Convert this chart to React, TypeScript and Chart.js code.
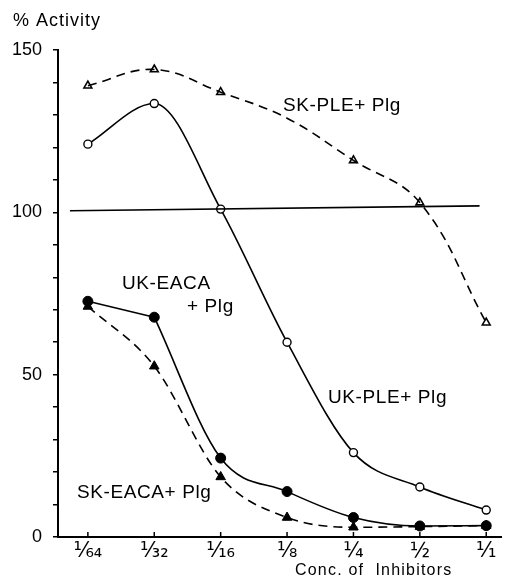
import React, { useEffect, useRef } from "react";
import { Chart, registerables } from "chart.js";

Chart.register(...registerables);

// ---- data ----
const categories = ["¹⁄₆₄", "¹⁄₃₂", "¹⁄₁₆", "⅛", "¼", "½", "¹⁄₁"];
const skPleMeasured = [139, 144, 137, 152, 116, 103, 66];
const skPleFit = [139, 144, 137, 129, 116, 103, 66];
const ukPle = [121, 133.5, 101, 60, 26, 15.4, 8.3];
const ukEaca = [72.6, 67.7, 24.3, 14, 6, 3.4, 3.5];
const skEaca = [71, 52.6, 18.5, 6, 3, 3.2, 3.5];
const refLineX = [-0.27, 5.9];
const refLineY = [100.5, 102];
const yLabelTicks = [0, 50, 100, 150];

const toPts = (arr: number[], offset = 0) => arr.map((v, i) => ({ x: i + offset, y: v }));

const annotations = [
  { text: "% Activity", x: 13, y: 21, size: 18, spacing: 1 },
  { text: "SK-PLE+ Plg", x: 283, y: 106, size: 19, spacing: 0.6 },
  { text: "UK-EACA", x: 122, y: 284, size: 19, spacing: 0.6 },
  { text: "+ Plg", x: 187, y: 307, size: 19, spacing: 0.6 },
  { text: "UK-PLE+ Plg", x: 328, y: 398, size: 19, spacing: 0.6 },
  { text: "SK-EACA+ Plg", x: 77, y: 493, size: 19, spacing: 0.6 },
  { text: "Conc. of  Inhibitors", x: 295, y: 571, size: 16, spacing: 1.2 },
];

const textPlugin = {
  id: "textPlugin",
  afterDraw(chart: any) {
    const ctx = chart.ctx as CanvasRenderingContext2D;
    const xs = chart.scales.x;
    const area = chart.chartArea;
    ctx.save();
    ctx.strokeStyle = "#000";
    ctx.lineWidth = 1.5;
    categories.forEach((_, i) => {
      const px = xs.getPixelForValue(i);
      ctx.beginPath();
      ctx.moveTo(px, area.bottom);
      ctx.lineTo(px, area.bottom - 5);
      ctx.stroke();
    });
    ctx.fillStyle = "#000";
    ctx.textBaseline = "middle";
    ctx.textAlign = "left";
    for (const a of annotations) {
      ctx.font = `${a.size}px "Liberation Sans"`;
      (ctx as any).letterSpacing = `${a.spacing}px`;
      ctx.fillText(a.text, a.x, a.y);
    }
    ctx.restore();
  },
};

export default function App() {
  const ref = useRef<HTMLCanvasElement | null>(null);
  useEffect(() => {
    if (!ref.current) return;
    const common = {
      borderColor: "#000",
      borderWidth: 1.6,
      fill: false,
      clip: false as any,
    };
    const dash = [9, 6];
    const chart = new Chart(ref.current, {
      type: "line",
      data: {
        datasets: [
          {
            ...common,
            label: "100%",
            data: refLineX.map((x, i) => ({ x, y: refLineY[i] })),
            pointRadius: 0,
            tension: 0,
          },
          {
            ...common,
            label: "SK-PLE fit",
            data: toPts(skPleFit),
            borderDash: dash,
            pointRadius: 0,
            tension: 0.4,
          },
          {
            ...common,
            label: "SK-PLE+Plg",
            data: toPts(skPleMeasured),
            showLine: false,
            pointStyle: "triangle",
            pointRadius: 4.5,
            pointBorderWidth: 1.6,
            pointBackgroundColor: "#fff",
            pointBorderColor: "#000",
          },
          {
            ...common,
            label: "UK-PLE+Plg",
            data: toPts(ukPle),
            cubicInterpolationMode: "monotone",
            pointStyle: "circle",
            pointRadius: 4,
            pointBorderWidth: 1.4,
            pointBackgroundColor: "#fff",
            pointBorderColor: "#000",
          },
          {
            ...common,
            label: "UK-EACA start",
            data: toPts(ukEaca.slice(0, 2)),
            pointRadius: 0,
            tension: 0,
          },
          {
            ...common,
            label: "UK-EACA decay",
            data: toPts(ukEaca.slice(1), 1),
            pointRadius: 0,
            cubicInterpolationMode: "monotone",
          },
          {
            ...common,
            label: "UK-EACA+Plg",
            data: toPts(ukEaca),
            showLine: false,
            pointStyle: "circle",
            pointRadius: 5,
            pointBorderWidth: 1,
            pointBackgroundColor: "#000",
            pointBorderColor: "#000",
          },
          {
            ...common,
            label: "SK-EACA+Plg",
            data: toPts(skEaca),
            cubicInterpolationMode: "monotone",
            borderDash: dash,
            pointStyle: "triangle",
            pointRadius: 5.5,
            pointBorderWidth: 1,
            pointBackgroundColor: "#000",
            pointBorderColor: "#000",
          },
        ],
      },
      options: {
        animation: false,
        responsive: true,
        maintainAspectRatio: false,
        layout: { padding: { top: 50, right: 3, left: 0, bottom: 0 } },
        plugins: {
          legend: { display: false },
          tooltip: { enabled: false },
        },
        scales: {
          x: {
            type: "linear",
            min: -0.45,
            max: 6.23,
            afterBuildTicks: (s: any) => {
              s.ticks = categories.map((_, i) => ({ value: i }));
            },
            afterFit: (s: any) => {
              s.height = 41;
            },
            ticks: {
              callback: (v: any) => categories[v] ?? "",
              font: { family: "DejaVu Sans", size: 21 },
              color: "#000",
              padding: 2,
              maxRotation: 0,
              autoSkip: false,
            },
            grid: { display: true, drawOnChartArea: false, drawTicks: false, color: "#000" },
            border: { display: true, color: "#000", width: 2 },
          },
          y: {
            type: "linear",
            min: 0,
            max: 150,
            afterFit: (s: any) => {
              s.width = 58;
            },
            ticks: {
              stepSize: 10,
              autoSkip: false,
              callback: (v: any) => (yLabelTicks.includes(v) ? String(v) : ""),
              font: { family: "Liberation Sans", size: 18 },
              color: "#000",
              padding: 11,
            },
            grid: { display: true, drawOnChartArea: false, tickLength: 5, color: "#000", lineWidth: 1.5 },
            border: { display: true, color: "#000", width: 2 },
          },
        },
      },
      plugins: [textPlugin],
    });
    return () => chart.destroy();
  }, []);
  return (
    <div style={{ position: "fixed", left: 0, top: 0, width: 508, height: 578, background: "#fff" }}>
      <canvas ref={ref} />
    </div>
  );
}
